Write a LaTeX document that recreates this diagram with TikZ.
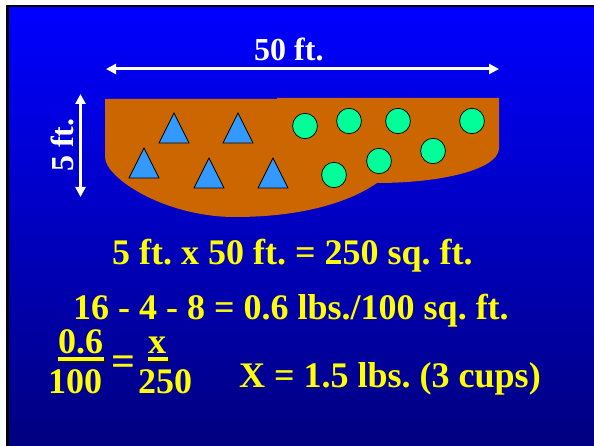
\documentclass[tikz,border=0pt]{standalone}
\usepackage{fontspec}
\setmainfont{Liberation Serif}
\usetikzlibrary{arrows.meta}
\definecolor{soil}{HTML}{CC6600}
\definecolor{tri}{HTML}{3399FF}
\definecolor{leaf}{HTML}{00FF99}
\definecolor{topblue}{HTML}{0000FF}
\definecolor{botblue}{HTML}{000080}
\definecolor{txtyellow}{HTML}{FFFF00}
\definecolor{shadowcol}{HTML}{101030}
\tikzset{
  txt/.style={inner sep=0pt, anchor=base west, font=\fontsize{36}{40}\selectfont\bfseries},
  dimarrow/.style={draw=white, line width=3pt, {Triangle[width=10pt,length=10pt]}-{Triangle[width=10pt,length=10pt]}},
  trishape/.style={fill=tri, draw=black, line width=0.7pt, line join=miter},
  plant/.style={fill=leaf, draw=black, line width=0.7pt},
}
% #1 name, #2 x, #3 y, #4 colour, #5 extra options, #6 text
\newcommand\shtxt[6]{%
  \node[txt,text=#4,#5] (#1) at (#2,#3) {\frenchspacing #6};
}
\newcommand\trianglepath[3]{% apex x, apex y, base y
  \draw[trishape] (#1,#2) -- (#1+15,#3) -- (#1-15,#3) -- cycle;
}
\begin{document}
\begin{tikzpicture}[x=1pt,y=-1pt]
\useasboundingbox (0,0) rectangle (594,446);
\fill[white] (0,0) rectangle (594,446);
\fill[black] (6,5) rectangle (594,446);
\shade[top color=topblue, bottom color=botblue] (9,8) rectangle (594,446);

% bed
\fill[soil] (105,99) -- (277,99) -- (277,98) -- (499,98) -- (499,149)
  .. controls (497,170) and (440,183) .. (377,183)
  .. controls (345,205) and (295,217) .. (235,217)
  .. controls (165,217) and (105,178) .. (105,157) -- cycle;

% triangles
\trianglepath{174}{113}{143}
\trianglepath{238}{113}{143}
\trianglepath{144}{148}{178}
\trianglepath{209}{158}{188}
\trianglepath{273}{158}{188}

% circles
\foreach \cx/\cy in {305/126, 349/121, 398/121, 472/121, 433/151, 379/161, 334/175}
  \draw[plant] (\cx,\cy) ellipse [x radius=12.4, y radius=12.7];

% dimension arrows
\coordinate (hl) at (106,69);
\coordinate (hr) at (499,69);
\coordinate (vt) at (80.5,94);
\coordinate (vb) at (80.5,197);
\draw[dimarrow] (hl) -- (hr);
\draw[dimarrow] (vt) -- (vb);

\shtxt{w}{254}{61}{white}{font=\fontsize{32}{36}\selectfont\bfseries}{50 ft.}
\shtxt{h}{73}{172}{white}{font=\fontsize{32}{36}\selectfont\bfseries, rotate=90}{5 ft.}

% calculations
\shtxt{l1}{112}{265}{txtyellow}{}{5 ft. x 50 ft. = 250 sq. ft.}
\shtxt{l2}{73}{319}{txtyellow}{}{16 - 4 - 8 = 0.6 lbs./100 sq. ft.}
\shtxt{n1}{58}{353}{txtyellow}{}{0.6}
\shtxt{d1}{48}{393}{txtyellow}{}{100}
\shtxt{eq}{111}{375}{txtyellow}{font=\fontsize{42}{46}\selectfont\bfseries}{=}
\shtxt{n2}{148}{353}{txtyellow}{}{x}
\shtxt{d2}{138}{393}{txtyellow}{}{250}
\shtxt{res}{239}{387}{txtyellow}{}{X = 1.5 lbs. (3 cups)}

% fraction bars (underlines), with their drop shadow
\fill[shadowcol] (60,359) rectangle (106,363);
\fill[txtyellow] (58,357) rectangle (104,361);
\fill[shadowcol] (150,359) rectangle (170,363);
\fill[txtyellow] (148,357) rectangle (168,361);
\end{tikzpicture}
\end{document}
